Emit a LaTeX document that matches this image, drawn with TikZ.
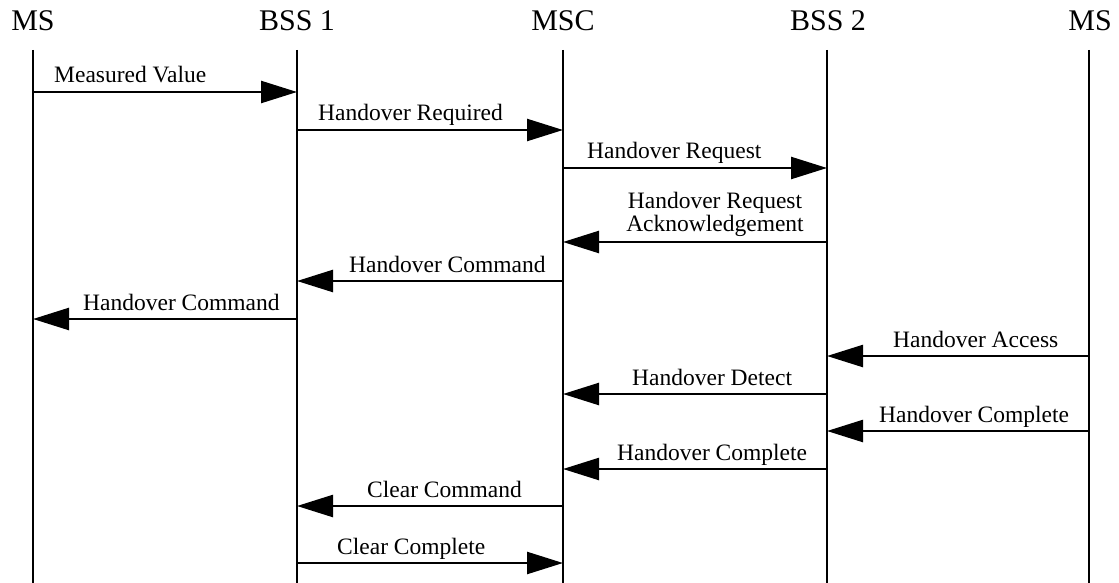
\documentclass[tikz,border=0pt]{standalone}
\usepackage{fontspec}
\setmainfont{Liberation Serif}
\usetikzlibrary{arrows.meta}

\begin{document}
\begin{tikzpicture}[x=1pt,y=-1pt,
  lifeline/.style={line width=2.8pt},
  msg/.style={line width=2.4pt,-{Triangle[length=36pt,width=22pt]}},
  lbl/.style={anchor=base west,inner sep=0pt,font=\fontsize{23.5}{27}\selectfont},
  lblc/.style={anchor=base,inner sep=0pt,font=\fontsize{23.5}{27}\selectfont},
  head/.style={anchor=base,inner sep=0pt,font=\fontsize{30}{34}\selectfont}]
\useasboundingbox (0,0) rectangle (1119,583);

% actors
\node[head] (hms1)  at (33,31)   {MS};
\node[head] (hbss1) at (297,31)  {BSS 1};
\node[head] (hmsc)  at (563,31)  {MSC};
\node[head] (hbss2) at (828,31)  {BSS 2};
\node[head] (hms2)  at (1090,31) {MS};

% lifelines
\coordinate (ms1)  at (33,50);   \coordinate (ms1e)  at (33,583);
\coordinate (bss1) at (297,50);  \coordinate (bss1e) at (297,583);
\coordinate (msc)  at (563,50);  \coordinate (msce)  at (563,583);
\coordinate (bss2) at (827,50);  \coordinate (bss2e) at (827,583);
\coordinate (ms2)  at (1089,50); \coordinate (ms2e)  at (1089,583);
\foreach \l in {ms1,bss1,msc,bss2,ms2}
  \draw[lifeline] (\l) -- (\l e);

% message rows
\coordinate (m1)  at (0,92);
\coordinate (m2)  at (0,130);
\coordinate (m3)  at (0,168);
\coordinate (m4)  at (0,242);
\coordinate (m5)  at (0,281);
\coordinate (m6)  at (0,319);
\coordinate (m7)  at (0,356);
\coordinate (m8)  at (0,394);
\coordinate (m9)  at (0,431);
\coordinate (m10) at (0,469);
\coordinate (m11) at (0,506);
\coordinate (m12) at (0,563);

% messages
\draw[msg] (ms1 |- m1)   -- (bss1 |- m1);
\draw[msg] (bss1 |- m2)  -- (msc |- m2);
\draw[msg] (msc |- m3)   -- (bss2 |- m3);
\draw[msg] (bss2 |- m4)  -- (msc |- m4);
\draw[msg] (msc |- m5)   -- (bss1 |- m5);
\draw[msg] (bss1 |- m6)  -- (ms1 |- m6);
\draw[msg] (ms2 |- m7)   -- (bss2 |- m7);
\draw[msg] (bss2 |- m8)  -- (msc |- m8);
\draw[msg] (ms2 |- m9)   -- (bss2 |- m9);
\draw[msg] (bss2 |- m10) -- (msc |- m10);
\draw[msg] (msc |- m11)  -- (bss1 |- m11);
\draw[msg] (bss1 |- m12) -- (msc |- m12);

% message labels
\node[lbl] (l1)  at (54,83)   {Measured Value};
\node[lbl] (l2)  at (318,121) {Handover Required};
\node[lbl] (l3)  at (587,159) {Handover Request};
\node[lblc] (l4a) at (715,208) {Handover Request};
\node[lblc] (l4b) at (715,231) {Acknowledgement};
\node[lbl] (l5)  at (349,272) {Handover Command};
\node[lbl] (l6)  at (83,310)  {Handover Command};
\node[lbl] (l7)  at (893,347) {Handover Access};
\node[lbl] (l8)  at (632,385) {Handover Detect};
\node[lbl] (l9)  at (879,422) {Handover Complete};
\node[lbl] (l10) at (617,460) {Handover Complete};
\node[lbl] (l11) at (367,497) {Clear Command};
\node[lbl] (l12) at (337,554) {Clear Complete};
\end{tikzpicture}
\end{document}
